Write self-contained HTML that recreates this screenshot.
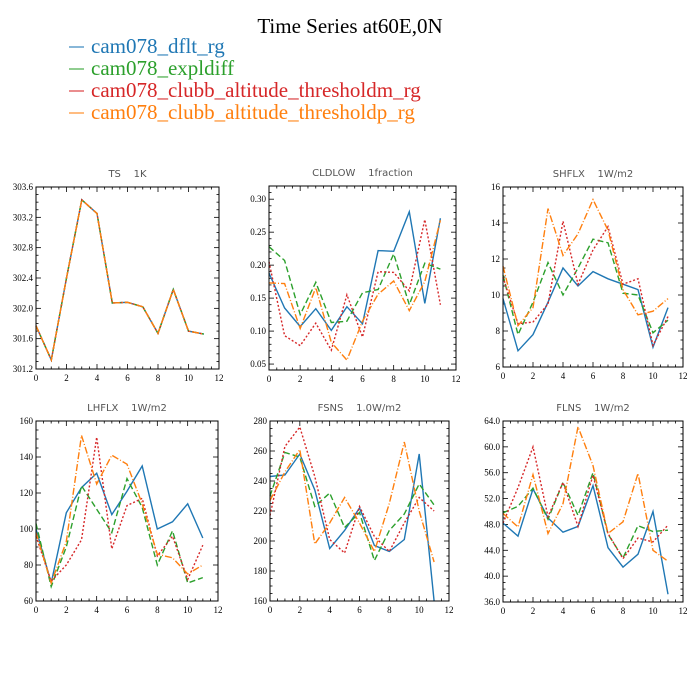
<!DOCTYPE html>
<html><head><meta charset="utf-8"><style>
body{margin:0;background:#fff;width:700px;height:700px;overflow:hidden}
svg{display:block}
text{white-space:pre}
</style></head><body>
<svg id="root" width="700" height="700" viewBox="0 0 700 700">
<text x="350" y="33" text-anchor="middle" font-family="Liberation Serif, serif" font-size="21">Time Series at60E,0N</text>
<g id="legend"></g>
<g id="panels"></g>
</svg>
<script>
const months = [0,1,2,3,4,5,6,7,8,9,10,11];
const seriesNames = ["cam078_dflt_rg","cam078_expldiff","cam078_clubb_altitude_thresholdm_rg","cam078_clubb_altitude_thresholdp_rg"];
const seriesColors = ["#1f77b4","#2ca02c","#d62728","#ff7f0e"];
const seriesDash = ["", "6,3", "2,2", "7,2,1,2"];

const tsBlue   = [301.77,301.32,302.4,303.43,303.25,302.07,302.08,302.02,301.67,302.25,301.7,301.66];
const tsGreen  = [301.77,301.32,302.4,303.43,303.25,302.07,302.08,302.02,301.67,302.25,301.7,301.66];
const tsRed    = [301.77,301.32,302.4,303.43,303.25,302.07,302.08,302.02,301.67,302.25,301.7,301.66];
const tsOrange = [301.77,301.32,302.4,303.43,303.25,302.07,302.08,302.02,301.67,302.25,301.7,301.66];
const tsTicks = ["301.2","301.6","302.0","302.4","302.8","303.2","303.6"];

const cldBlue   = [0.188,0.135,0.107,0.134,0.101,0.137,0.111,0.222,0.221,0.281,0.142,0.271];
const cldGreen  = [0.228,0.207,0.125,0.174,0.113,0.115,0.158,0.163,0.217,0.140,0.203,0.194];
const cldRed    = [0.205,0.093,0.078,0.112,0.071,0.155,0.091,0.190,0.189,0.161,0.269,0.140];
const cldOrange = [0.173,0.172,0.104,0.166,0.083,0.056,0.115,0.156,0.176,0.131,0.175,0.268];
const cldTicks = ["0.05","0.10","0.15","0.20","0.25","0.30"];

const shBlue   = [9.8,6.9,7.8,9.6,11.5,10.5,11.3,10.9,10.6,10.3,7.1,9.3];
const shGreen  = [11.1,7.8,9.6,11.8,10.0,11.5,13.1,12.9,10.1,10.0,7.9,8.6];
const shRed    = [11.0,8.4,8.5,9.5,14.1,10.6,12.5,13.8,10.6,10.9,7.2,8.8];
const shOrange = [11.6,8.3,9.3,14.8,12.2,13.4,15.3,13.6,10.3,8.9,9.1,9.8];
const shTicks = ["6","8","10","12","14","16"];

const lhBlue   = [100,70,109,123,131,108,121,135,100,104,114,95];
const lhGreen  = [103,68,90,124,111,98,128,112,80,99,70,73];
const lhRed    = [96,71,80,94,151,89,113,117,85,96,72,91];
const lhOrange = [98,70,93,152,125,141,136,114,86,84,75,80];
const lhTicks = ["60","80","100","120","140","160"];

const fsBlue   = [243,244,258,234,195,207,222,197,193,201,258,160];
const fsGreen  = [230,259,256,223,232,209,219,187,207,218,238,224];
const fsRed    = [217,263,276,243,201,192,223,203,193,212,229,220];
const fsOrange = [227,246,261,198,212,229,212,193,225,266,220,186];
const fsTicks = ["160","180","200","220","240","260","280"];

const flBlue   = [48.2,46.2,53.5,49.0,46.8,47.7,54.0,44.4,41.4,43.4,50.0,37.2];
const flGreen  = [49.8,50.8,53.6,48.8,54.5,49.4,56.0,46.5,42.8,47.8,46.9,47.1];
const flRed    = [48.2,53.7,60.0,49.2,54.5,47.7,55.6,46.6,42.7,45.9,45.3,47.9];
const flOrange = [49.7,47.6,55.7,46.6,51.2,63.1,57.1,46.6,48.4,55.9,44.0,42.3];
const flTicks = ["36.0","40.0","44.0","48.0","52.0","56.0","60.0","64.0"];

const xTicks = ["0","2","4","6","8","10","12"];

const NS="http://www.w3.org/2000/svg";
function mk(tag, attrs, parent){const e=document.createElementNS(NS,tag);for(const k in attrs)e.setAttribute(k,attrs[k]);parent.appendChild(e);return e;}

const leg=document.getElementById('legend');
seriesNames.forEach((n,i)=>{
  const y=47+i*22;
  const ln=mk('line',{x1:69,x2:84,y1:y,y2:y,stroke:seriesColors[i],'stroke-width':1.5,opacity:0.7},leg);
  
  
  const t=mk('text',{x:91,y:y+6,'font-family':'Liberation Serif, serif','font-size':21,fill:seriesColors[i]},leg);
  t.textContent=n;
  
  
});

const panels=[
 {title:"TS    1K", name:"ts", x0:36,x1:219,y0:187,y1:369, ymin:301.2,ymax:303.6, ticks:tsTicks, minor:4, data:[tsBlue,tsGreen,tsRed,tsOrange]},
 {title:"CLDLOW    1fraction", name:"cldlow", x0:269,x1:456,y0:186,y1:370, ymin:0.041,ymax:0.32, ticks:cldTicks, minor:5, data:[cldBlue,cldGreen,cldRed,cldOrange]},
 {title:"SHFLX    1W/m2", name:"shflx", x0:503,x1:683,y0:187,y1:367, ymin:6,ymax:16, ticks:shTicks, minor:4, data:[shBlue,shGreen,shRed,shOrange]},
 {title:"LHFLX    1W/m2", name:"lhflx", x0:36,x1:218,y0:421,y1:601, ymin:60,ymax:160, ticks:lhTicks, minor:4, data:[lhBlue,lhGreen,lhRed,lhOrange]},
 {title:"FSNS    1.0W/m2", name:"fsns", x0:270,x1:449,y0:421,y1:601, ymin:160,ymax:280, ticks:fsTicks, minor:4, data:[fsBlue,fsGreen,fsRed,fsOrange]},
 {title:"FLNS    1W/m2", name:"flns", x0:503,x1:683,y0:421,y1:602, ymin:36,ymax:64, ticks:flTicks, minor:4, data:[flBlue,flGreen,flRed,flOrange]},
];
const root=document.getElementById('panels');
panels.forEach(p=>{
  const g=mk('g',{},root);
  
  
  const sx=v=>p.x0+(v-0)/12*(p.x1-p.x0);
  const sy=v=>p.y1-(v-p.ymin)/(p.ymax-p.ymin)*(p.y1-p.y0);
  const tt=mk('text',{x:(p.x0+p.x1)/2,y:p.y0-10,'text-anchor':'middle','font-family':'DejaVu Sans, sans-serif','font-size':10,fill:'#555'},g);
  tt.textContent=p.title;
  
  
  const tg=mk('g',{stroke:'#000','stroke-width':0.8},g);
  for(let i=0;i<=24;i++){const v=i*0.5;const x=sx(v);const L=(i%4==0)?5:2.5;
    mk('line',{x1:x,x2:x,y1:p.y1,y2:p.y1-L},tg);mk('line',{x1:x,x2:x,y1:p.y0,y2:p.y0+L},tg);}
  xTicks.forEach(s=>{const t=mk('text',{x:sx(+s),y:p.y1+12,'text-anchor':'middle','font-family':'Liberation Serif, serif','font-size':9},g);t.textContent=s;
    
    });
  const tv=p.ticks.map(Number); const step=tv[1]-tv[0];
  const lo=Math.floor((p.ymin-tv[0])/step)*p.minor, hi=Math.ceil((p.ymax-tv[0])/step)*p.minor;
  for(let k=lo;k<=hi;k++){const v=tv[0]+k*step/p.minor; if(v<p.ymin-1e-9||v>p.ymax+1e-9)continue;
    const y=sy(v);const L=(k%p.minor==0)?5:2.5;
    mk('line',{x1:p.x0,x2:p.x0+L,y1:y,y2:y},tg);mk('line',{x1:p.x1,x2:p.x1-L,y1:y,y2:y},tg);}
  p.ticks.forEach(s=>{const t=mk('text',{x:p.x0-3,y:sy(+s)+3,'text-anchor':'end','font-family':'Liberation Serif, serif','font-size':9},g);t.textContent=s;
    
    });
  p.data.forEach((arr,i)=>{
    const pts=arr.map((v,j)=>sx(months[j]).toFixed(1)+','+sy(v).toFixed(1)).join(' ');
    const pl=mk('polyline',{points:pts,fill:'none',stroke:seriesColors[i],'stroke-width':1.4,'stroke-dasharray':seriesDash[i]},g);
    
    
  });
  const fr=mk('rect',{x:p.x0,y:p.y0,width:p.x1-p.x0,height:p.y1-p.y0,fill:'none',stroke:'#000','stroke-width':1},g);
  
  
});
</script>
</body></html>
